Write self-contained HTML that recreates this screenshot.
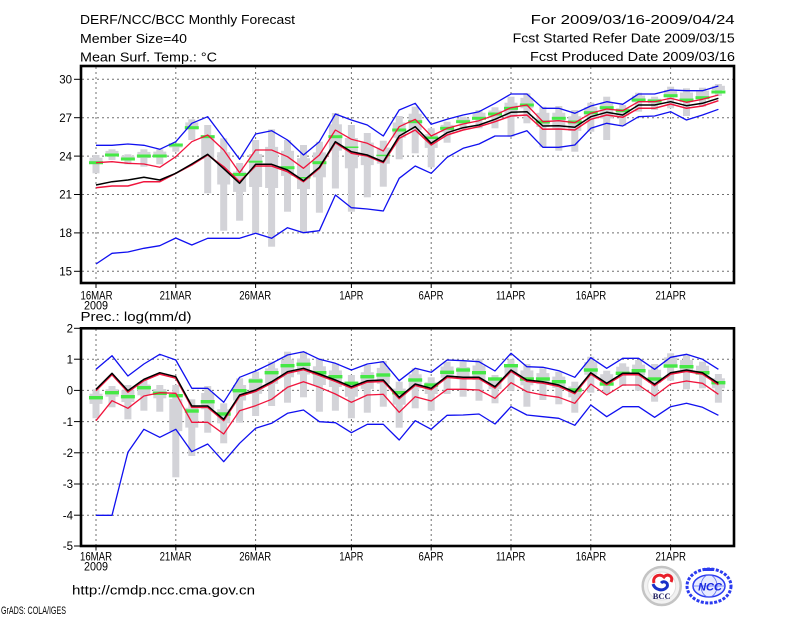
<!DOCTYPE html>
<html>
<head>
<meta charset="utf-8">
<style>
html,body{margin:0;padding:0;background:#fff;}
svg{display:block;}
text{font-family:"Liberation Sans",Arial,sans-serif;fill:#000;}
</style>
</head>
<body>
<svg width="800" height="618" viewBox="0 0 800 618" xmlns="http://www.w3.org/2000/svg">
<rect width="800" height="618" fill="#fff"/>

<!-- Header -->
<g font-size="13">
<text x="80" y="24" textLength="215" lengthAdjust="spacingAndGlyphs">DERF/NCC/BCC Monthly Forecast</text>
<text x="80" y="43" textLength="107" lengthAdjust="spacingAndGlyphs">Member Size=40</text>
<text x="80" y="61.5" textLength="137" lengthAdjust="spacingAndGlyphs">Mean Surf. Temp.: °C</text>
<text x="530.7" y="24" textLength="204" lengthAdjust="spacingAndGlyphs">For 2009/03/16-2009/04/24</text>
<text x="512.7" y="42.5" textLength="222" lengthAdjust="spacingAndGlyphs">Fcst Started Refer Date 2009/03/15</text>
<text x="530" y="61" textLength="205" lengthAdjust="spacingAndGlyphs">Fcst Produced Date 2009/03/16</text>
</g>

<!-- ================= TOP CHART ================= -->
<g stroke="#707070" stroke-width="1" stroke-dasharray="2,3" fill="none">
<line x1="82" y1="79.3" x2="733" y2="79.3"/>
<line x1="82" y1="117.7" x2="733" y2="117.7"/>
<line x1="82" y1="156.1" x2="733" y2="156.1"/>
<line x1="82" y1="194.5" x2="733" y2="194.5"/>
<line x1="82" y1="232.9" x2="733" y2="232.9"/>
<line x1="82" y1="271.3" x2="733" y2="271.3"/>
<line x1="96" y1="67" x2="96" y2="282"/>
<line x1="175.8" y1="67" x2="175.8" y2="282"/>
<line x1="255.6" y1="67" x2="255.6" y2="282"/>
<line x1="351.4" y1="67" x2="351.4" y2="282"/>
<line x1="431.2" y1="67" x2="431.2" y2="282"/>
<line x1="511" y1="67" x2="511" y2="282"/>
<line x1="590.8" y1="67" x2="590.8" y2="282"/>
<line x1="670.6" y1="67" x2="670.6" y2="282"/>
</g>

<!-- gray bars top -->
<g fill="#d3d3d8">
<rect x="92.5" y="155" width="7" height="18.3"/><rect x="89.5" y="157.7" width="13" height="6.4"/>
<rect x="108.5" y="149.3" width="7" height="10.7"/><rect x="105.5" y="150.9" width="13" height="3.7"/>
<rect x="124.4" y="154.3" width="7" height="10"/><rect x="121.4" y="155.8" width="13" height="3.5"/>
<rect x="140.4" y="149.3" width="7" height="17.4"/><rect x="137.4" y="151.9" width="13" height="6.1"/>
<rect x="156.3" y="149.3" width="7" height="15"/><rect x="153.3" y="151.6" width="13" height="5.3"/>
<rect x="172.3" y="143.3" width="7" height="8.4"/><rect x="169.3" y="144.6" width="13" height="2.9"/>
<rect x="188.3" y="119.3" width="7" height="20.7"/><rect x="185.3" y="122.4" width="13" height="7.2"/>
<rect x="204.2" y="125" width="7" height="68.3"/><rect x="201.2" y="135.2" width="13" height="23.9"/>
<rect x="220.2" y="138.3" width="7" height="92.4"/><rect x="217.2" y="152.2" width="13" height="32.3"/>
<rect x="236.1" y="163" width="7" height="57.7"/><rect x="233.1" y="171.7" width="13" height="20.2"/>
<rect x="252.1" y="140" width="7" height="94"/><rect x="249.1" y="154.1" width="13" height="32.9"/>
<rect x="268.1" y="129.3" width="7" height="117.4"/><rect x="265.1" y="146.9" width="13" height="41.1"/>
<rect x="284" y="140" width="7" height="71.7"/><rect x="281" y="150.8" width="13" height="25.1"/>
<rect x="300" y="145" width="7" height="88.3"/><rect x="297" y="158.2" width="13" height="30.9"/>
<rect x="315.9" y="141.7" width="7" height="71"/><rect x="312.9" y="152.4" width="13" height="24.9"/>
<rect x="331.9" y="113" width="7" height="75.5"/><rect x="328.9" y="124.3" width="13" height="26.4"/>
<rect x="347.9" y="125" width="7" height="86.7"/><rect x="344.9" y="138" width="13" height="30.3"/>
<rect x="363.8" y="133" width="7" height="64.3"/><rect x="360.8" y="142.6" width="13" height="22.5"/>
<rect x="379.8" y="140.7" width="7" height="46"/><rect x="376.8" y="147.6" width="13" height="16.1"/>
<rect x="395.7" y="116" width="7" height="43.3"/><rect x="392.7" y="122.5" width="13" height="15.2"/>
<rect x="411.7" y="106.7" width="7" height="46.6"/><rect x="408.7" y="113.7" width="13" height="16.3"/>
<rect x="427.7" y="128.3" width="7" height="39"/><rect x="424.7" y="134.2" width="13" height="13.7"/>
<rect x="443.6" y="121.7" width="7" height="21"/><rect x="440.6" y="124.9" width="13" height="7.4"/>
<rect x="459.6" y="116.7" width="7" height="12.6"/><rect x="456.6" y="118.6" width="13" height="4.4"/>
<rect x="475.5" y="110" width="7" height="18.3"/><rect x="472.5" y="112.7" width="13" height="6.4"/>
<rect x="491.5" y="107.3" width="7" height="21"/><rect x="488.5" y="110.5" width="13" height="7.4"/>
<rect x="507.5" y="96.7" width="7" height="40"/><rect x="504.5" y="102.7" width="13" height="14"/>
<rect x="523.4" y="93.3" width="7" height="30"/><rect x="520.4" y="97.8" width="13" height="10.5"/>
<rect x="539.4" y="106.7" width="7" height="40.6"/><rect x="536.4" y="112.8" width="13" height="14.2"/>
<rect x="555.3" y="106" width="7" height="44.7"/><rect x="552.3" y="112.7" width="13" height="15.6"/>
<rect x="571.3" y="110" width="7" height="41.7"/><rect x="568.3" y="116.3" width="13" height="14.6"/>
<rect x="587.3" y="102.7" width="7" height="29"/><rect x="584.3" y="107.1" width="13" height="10.2"/>
<rect x="603.2" y="96.7" width="7" height="43.3"/><rect x="600.2" y="103.2" width="13" height="15.2"/>
<rect x="619.2" y="105" width="7" height="21"/><rect x="616.2" y="108.2" width="13" height="7.4"/>
<rect x="635.1" y="92.7" width="7" height="19"/><rect x="632.1" y="95.6" width="13" height="6.7"/>
<rect x="651.1" y="96.7" width="7" height="13.3"/><rect x="648.1" y="98.7" width="13" height="4.7"/>
<rect x="667.1" y="86.7" width="7" height="21.6"/><rect x="664.1" y="89.9" width="13" height="7.6"/>
<rect x="683" y="88.3" width="7" height="27.7"/><rect x="680" y="92.5" width="13" height="9.7"/>
<rect x="699" y="87.7" width="7" height="19"/><rect x="696" y="90.6" width="13" height="6.7"/>
<rect x="714.9" y="84" width="7" height="12"/><rect x="711.9" y="85.8" width="13" height="4.2"/>
</g>

<!-- green dashes top -->
<g fill="#46e846">
<rect x="89" y="161.2" width="14" height="3"/>
<rect x="105" y="153.5" width="14" height="3"/>
<rect x="120.9" y="157.5" width="14" height="3"/>
<rect x="136.9" y="154.5" width="14" height="3"/>
<rect x="152.8" y="154.5" width="14" height="3"/>
<rect x="168.8" y="143.5" width="14" height="3"/>
<rect x="184.8" y="126.2" width="14" height="3"/>
<rect x="200.7" y="135.2" width="14" height="3"/>
<rect x="232.6" y="173" width="14" height="3"/>
<rect x="248.6" y="160.7" width="14" height="2"/>
<rect x="280.5" y="166.2" width="14" height="3"/>
<rect x="296.5" y="177" width="14" height="1.5"/>
<rect x="312.4" y="161.2" width="14" height="3"/>
<rect x="328.4" y="135.2" width="14" height="3"/>
<rect x="344.4" y="146.5" width="14" height="1.5"/>
<rect x="376.3" y="154.7" width="14" height="1.5"/>
<rect x="392.2" y="128.5" width="14" height="3"/>
<rect x="408.2" y="120.2" width="14" height="3"/>
<rect x="424.2" y="136.5" width="14" height="2.5"/>
<rect x="440.1" y="126.8" width="14" height="3"/>
<rect x="456.1" y="120.2" width="14" height="3"/>
<rect x="472" y="116.8" width="14" height="3"/>
<rect x="488" y="112.5" width="14" height="3"/>
<rect x="504" y="106.8" width="14" height="3"/>
<rect x="519.9" y="103.5" width="14" height="3"/>
<rect x="535.9" y="120.5" width="14" height="3"/>
<rect x="551.8" y="116.8" width="14" height="3"/>
<rect x="567.8" y="120.5" width="14" height="3"/>
<rect x="583.8" y="111.2" width="14" height="3"/>
<rect x="599.7" y="106.2" width="14" height="3"/>
<rect x="615.7" y="109.2" width="14" height="3"/>
<rect x="631.6" y="98.5" width="14" height="3"/>
<rect x="647.6" y="99.5" width="14" height="3"/>
<rect x="663.6" y="94.2" width="14" height="3"/>
<rect x="679.5" y="98.5" width="14" height="3"/>
<rect x="695.5" y="96.2" width="14" height="3"/>
<rect x="711.4" y="90.5" width="14" height="3"/>
</g>

<g fill="none" stroke-linejoin="round">
<polyline stroke="#1010f0" stroke-width="1.3" points="96,145.3 112,145.3 127.9,144 143.9,145.3 159.8,149.3 175.8,141.7 191.8,123.3 207.7,116.7 223.7,138 239.6,159.3 255.6,134 271.6,130.7 287.5,140 303.5,155 319.4,141.7 335.4,114 351.4,120 367.3,125 383.3,136 399.2,110 415.2,103.3 431.2,124.3 447.1,119.3 463.1,115 479,111.7 495,103.3 511,94 526.9,94 542.9,108.3 558.8,108.3 574.8,113.3 590.8,106 606.7,101.7 622.7,104.3 638.6,94 654.6,94 670.6,90 686.5,90.7 702.5,90.7 718.4,86"/>
<polyline stroke="#1010f0" stroke-width="1.3" points="96,264 112,253.3 127.9,252 143.9,248.3 159.8,245.7 175.8,238 191.8,245 207.7,238.3 223.7,238.3 239.6,238.3 255.6,233.3 271.6,238.3 287.5,227.7 303.5,232.7 319.4,230.7 335.4,195 351.4,207.7 367.3,209 383.3,211 399.2,178.3 415.2,166 431.2,173.3 447.1,157.3 463.1,148.3 479,144 495,136 511,136 526.9,130.7 542.9,147.3 558.8,147.3 574.8,145 590.8,128.3 606.7,123.3 622.7,126 638.6,116.7 654.6,116 670.6,111.7 686.5,120 702.5,115 718.4,109.3"/>
<polyline stroke="#f0143c" stroke-width="1.3" points="96,162.7 112,161.7 127.9,163.3 143.9,164 159.8,167.3 175.8,156.7 191.8,141.7 207.7,135 223.7,150 239.6,172.7 255.6,150 271.6,150 287.5,156.7 303.5,168.3 319.4,155 335.4,130 351.4,139.3 367.3,143.3 383.3,151 399.2,126.7 415.2,119.3 431.2,136 447.1,128.3 463.1,124 479,120.7 495,115 511,107.7 526.9,105 542.9,121.7 558.8,120.7 574.8,122.7 590.8,113.3 606.7,109 622.7,110.7 638.6,101.7 654.6,101.7 670.6,98.3 686.5,102.3 702.5,99.3 718.4,95"/>
<polyline stroke="#f0143c" stroke-width="1.5" points="96,187.7 112,186 127.9,186 143.9,181.7 159.8,181.7 175.8,173.3 191.8,165 207.7,155 223.7,166.7 239.6,181.7 255.6,166 271.6,166 287.5,171.7 303.5,181.7 319.4,168.3 335.4,142.7 351.4,153.3 367.3,156 383.3,162.7 399.2,138.3 415.2,130 431.2,145 447.1,135 463.1,130 479,126.7 495,121.7 511,116 526.9,115 542.9,129.3 558.8,129 574.8,130 590.8,119.3 606.7,115 622.7,117.3 638.6,108.3 654.6,108.3 670.6,104 686.5,108.3 702.5,106 718.4,100.7"/>
<polyline stroke="#000" stroke-width="1.5" points="96,185 112,181.7 127.9,180 143.9,177.3 159.8,180 175.8,173.3 191.8,164 207.7,154.3 223.7,168.7 239.6,183.3 255.6,164.3 271.6,164.3 287.5,170 303.5,180.7 319.4,167.3 335.4,141.7 351.4,151.7 367.3,155 383.3,161.7 399.2,136 415.2,126.7 431.2,143.3 447.1,132.7 463.1,127.7 479,125 495,119.3 511,112.3 526.9,111.7 542.9,126 558.8,125.7 574.8,127.3 590.8,116.7 606.7,112.3 622.7,115 638.6,105 654.6,105 670.6,101.7 686.5,105.7 702.5,103.3 718.4,98.3"/>
</g>

<rect x="81" y="66" width="653" height="217" fill="none" stroke="#000" stroke-width="2.6"/>

<!-- top ticks -->
<g stroke="#000" stroke-width="1">
<line x1="74" y1="79.3" x2="81" y2="79.3"/>
<line x1="74" y1="117.7" x2="81" y2="117.7"/>
<line x1="74" y1="156.1" x2="81" y2="156.1"/>
<line x1="74" y1="194.5" x2="81" y2="194.5"/>
<line x1="74" y1="232.9" x2="81" y2="232.9"/>
<line x1="74" y1="271.3" x2="81" y2="271.3"/>
<line x1="96" y1="283" x2="96" y2="288"/>
<line x1="175.8" y1="283" x2="175.8" y2="288"/>
<line x1="255.6" y1="283" x2="255.6" y2="288"/>
<line x1="351.4" y1="283" x2="351.4" y2="288"/>
<line x1="431.2" y1="283" x2="431.2" y2="288"/>
<line x1="511" y1="283" x2="511" y2="288"/>
<line x1="590.8" y1="283" x2="590.8" y2="288"/>
<line x1="670.6" y1="283" x2="670.6" y2="288"/>
</g>
<g font-size="11.5" text-anchor="end">
<text x="72" y="83.5">30</text>
<text x="72" y="121.9">27</text>
<text x="72" y="160.3">24</text>
<text x="72" y="198.7">21</text>
<text x="72" y="237.1">18</text>
<text x="72" y="275.5">15</text>
</g>
<g font-size="12" text-anchor="middle">
<text x="96.5" y="299.3" textLength="32" lengthAdjust="spacingAndGlyphs">16MAR</text>
<text x="96" y="309.5" textLength="24" lengthAdjust="spacingAndGlyphs">2009</text>
<text x="175.6" y="299.3" textLength="32" lengthAdjust="spacingAndGlyphs">21MAR</text>
<text x="255.2" y="299.3" textLength="32" lengthAdjust="spacingAndGlyphs">26MAR</text>
<text x="351.4" y="299.3" textLength="24" lengthAdjust="spacingAndGlyphs">1APR</text>
<text x="431" y="299.3" textLength="25" lengthAdjust="spacingAndGlyphs">6APR</text>
<text x="510.7" y="299.3" textLength="29.5" lengthAdjust="spacingAndGlyphs">11APR</text>
<text x="591" y="299.3" textLength="30.5" lengthAdjust="spacingAndGlyphs">16APR</text>
<text x="670.7" y="299.3" textLength="30.5" lengthAdjust="spacingAndGlyphs">21APR</text>
</g>

<text x="80.5" y="321" font-size="12.5" textLength="111" lengthAdjust="spacingAndGlyphs">Prec.: log(mm/d)</text>

<!-- ================= BOTTOM CHART ================= -->
<g stroke="#707070" stroke-width="1" stroke-dasharray="2,3" fill="none">
<line x1="82" y1="359.2" x2="733" y2="359.2"/>
<line x1="82" y1="390.4" x2="733" y2="390.4"/>
<line x1="82" y1="421.6" x2="733" y2="421.6"/>
<line x1="82" y1="452.8" x2="733" y2="452.8"/>
<line x1="82" y1="484" x2="733" y2="484"/>
<line x1="82" y1="515.2" x2="733" y2="515.2"/>
<line x1="96" y1="329" x2="96" y2="545"/>
<line x1="175.8" y1="329" x2="175.8" y2="545"/>
<line x1="255.6" y1="329" x2="255.6" y2="545"/>
<line x1="351.4" y1="329" x2="351.4" y2="545"/>
<line x1="431.2" y1="329" x2="431.2" y2="545"/>
<line x1="511" y1="329" x2="511" y2="545"/>
<line x1="590.8" y1="329" x2="590.8" y2="545"/>
<line x1="670.6" y1="329" x2="670.6" y2="545"/>
</g>

<g fill="#d3d3d8">
<rect x="92.5" y="389.3" width="7" height="29"/><rect x="89.5" y="393.7" width="13" height="10.2"/>
<rect x="108.5" y="386" width="7" height="21.3"/><rect x="105.5" y="389.2" width="13" height="7.5"/>
<rect x="124.4" y="385" width="7" height="34.3"/><rect x="121.4" y="390.1" width="13" height="12"/>
<rect x="140.4" y="380" width="7" height="30.7"/><rect x="137.4" y="384.6" width="13" height="10.7"/>
<rect x="156.3" y="385" width="7" height="26.7"/><rect x="153.3" y="389" width="13" height="9.3"/>
<rect x="172.3" y="385" width="7" height="92.3"/><rect x="169.3" y="398.8" width="13" height="32.3"/>
<rect x="188.3" y="399.3" width="7" height="56.7"/><rect x="185.3" y="407.8" width="13" height="19.8"/>
<rect x="204.2" y="386" width="7" height="46.7"/><rect x="201.2" y="393" width="13" height="16.3"/>
<rect x="220.2" y="403.3" width="7" height="40"/><rect x="217.2" y="409.3" width="13" height="14"/>
<rect x="236.1" y="378.3" width="7" height="44.4"/><rect x="233.1" y="385" width="13" height="15.5"/>
<rect x="252.1" y="371.7" width="7" height="44.3"/><rect x="249.1" y="378.3" width="13" height="15.5"/>
<rect x="268.1" y="361.7" width="7" height="44.3"/><rect x="265.1" y="368.3" width="13" height="15.5"/>
<rect x="284" y="351.7" width="7" height="51"/><rect x="281" y="359.4" width="13" height="17.9"/>
<rect x="300" y="351.7" width="7" height="45.6"/><rect x="297" y="358.5" width="13" height="16"/>
<rect x="315.9" y="358.3" width="7" height="53.4"/><rect x="312.9" y="366.3" width="13" height="18.7"/>
<rect x="331.9" y="363.3" width="7" height="47.4"/><rect x="328.9" y="370.4" width="13" height="16.6"/>
<rect x="347.9" y="375" width="7" height="43.3"/><rect x="344.9" y="381.5" width="13" height="15.2"/>
<rect x="363.8" y="365" width="7" height="47.7"/><rect x="360.8" y="372.2" width="13" height="16.7"/>
<rect x="379.8" y="361" width="7" height="45.7"/><rect x="376.8" y="367.9" width="13" height="16"/>
<rect x="395.7" y="381.7" width="7" height="46"/><rect x="392.7" y="388.6" width="13" height="16.1"/>
<rect x="411.7" y="368.3" width="7" height="40"/><rect x="408.7" y="374.3" width="13" height="14"/>
<rect x="427.7" y="377.3" width="7" height="33.4"/><rect x="424.7" y="382.3" width="13" height="11.7"/>
<rect x="443.6" y="361.7" width="7" height="32.3"/><rect x="440.6" y="366.5" width="13" height="11.3"/>
<rect x="459.6" y="361.7" width="7" height="35"/><rect x="456.6" y="367" width="13" height="12.3"/>
<rect x="475.5" y="359.3" width="7" height="41.4"/><rect x="472.5" y="365.5" width="13" height="14.5"/>
<rect x="491.5" y="375" width="7" height="28.3"/><rect x="488.5" y="379.2" width="13" height="9.9"/>
<rect x="507.5" y="359.3" width="7" height="31.4"/><rect x="504.5" y="364" width="13" height="11"/>
<rect x="523.4" y="364" width="7" height="42.7"/><rect x="520.4" y="370.4" width="13" height="14.9"/>
<rect x="539.4" y="368.3" width="7" height="31.7"/><rect x="536.4" y="373.1" width="13" height="11.1"/>
<rect x="555.3" y="371.7" width="7" height="32.6"/><rect x="552.3" y="376.6" width="13" height="11.4"/>
<rect x="571.3" y="381.7" width="7" height="31"/><rect x="568.3" y="386.4" width="13" height="10.9"/>
<rect x="587.3" y="356.7" width="7" height="36"/><rect x="584.3" y="362.1" width="13" height="12.6"/>
<rect x="603.2" y="370.7" width="7" height="23.3"/><rect x="600.2" y="374.2" width="13" height="8.2"/>
<rect x="619.2" y="363.3" width="7" height="22.7"/><rect x="616.2" y="366.7" width="13" height="7.9"/>
<rect x="635.1" y="360" width="7" height="30.7"/><rect x="632.1" y="364.6" width="13" height="10.7"/>
<rect x="651.1" y="364" width="7" height="37.7"/><rect x="648.1" y="369.7" width="13" height="13.2"/>
<rect x="667.1" y="353.3" width="7" height="27.4"/><rect x="664.1" y="357.4" width="13" height="9.6"/>
<rect x="683" y="355" width="7" height="34.3"/><rect x="680" y="360.1" width="13" height="12"/>
<rect x="699" y="361.7" width="7" height="26.6"/><rect x="696" y="365.7" width="13" height="9.3"/>
<rect x="714.9" y="374" width="7" height="28.7"/><rect x="711.9" y="378.3" width="13" height="10"/>
</g>

<g fill="#46e846">
<rect x="89" y="396" width="14" height="3.4"/>
<rect x="105" y="391" width="14" height="3.4"/>
<rect x="120.9" y="395" width="14" height="3.4"/>
<rect x="136.9" y="386" width="14" height="3.4"/>
<rect x="152.8" y="391.6" width="14" height="3.4"/>
<rect x="168.8" y="394" width="14" height="3.4"/>
<rect x="184.8" y="409.3" width="14" height="3.4"/>
<rect x="200.7" y="400" width="14" height="3.4"/>
<rect x="216.7" y="412.3" width="14" height="3.4"/>
<rect x="232.6" y="389" width="14" height="3.4"/>
<rect x="248.6" y="379.3" width="14" height="3.4"/>
<rect x="264.6" y="371" width="14" height="3.4"/>
<rect x="280.5" y="364" width="14" height="3.4"/>
<rect x="296.5" y="362.6" width="14" height="3.4"/>
<rect x="312.4" y="371" width="14" height="3.4"/>
<rect x="328.4" y="375" width="14" height="3.4"/>
<rect x="344.4" y="381.6" width="14" height="3.4"/>
<rect x="360.3" y="375" width="14" height="3.4"/>
<rect x="376.3" y="373.3" width="14" height="3.4"/>
<rect x="392.2" y="391" width="14" height="3.4"/>
<rect x="408.2" y="378.3" width="14" height="3.4"/>
<rect x="424.2" y="383.3" width="14" height="3.4"/>
<rect x="440.1" y="370.6" width="14" height="3.4"/>
<rect x="456.1" y="368.3" width="14" height="3.4"/>
<rect x="472" y="371" width="14" height="3.4"/>
<rect x="488" y="377.3" width="14" height="3.4"/>
<rect x="504" y="364" width="14" height="3.4"/>
<rect x="519.9" y="377.3" width="14" height="3.4"/>
<rect x="535.9" y="377.3" width="14" height="3.4"/>
<rect x="551.8" y="380" width="14" height="3.4"/>
<rect x="567.8" y="388.3" width="14" height="3.4"/>
<rect x="583.8" y="368.3" width="14" height="3.4"/>
<rect x="599.7" y="382.3" width="14" height="3.4"/>
<rect x="615.7" y="371.6" width="14" height="3.4"/>
<rect x="631.6" y="369" width="14" height="3.4"/>
<rect x="647.6" y="377.3" width="14" height="3.4"/>
<rect x="663.6" y="364.3" width="14" height="3.4"/>
<rect x="679.5" y="365" width="14" height="3.4"/>
<rect x="695.5" y="371" width="14" height="3.4"/>
<rect x="711.4" y="381" width="14" height="3.4"/>
</g>

<g fill="none" stroke-linejoin="round">
<polyline stroke="#1010f0" stroke-width="1.3" points="96,369.3 112,355.7 127.9,376 143.9,364 159.8,354.3 175.8,360 191.8,388.3 207.7,388.3 223.7,402.3 239.6,377.3 255.6,371 271.6,363.3 287.5,355 303.5,351.7 319.4,359.3 335.4,363.3 351.4,370 367.3,364 383.3,361.7 399.2,380.7 415.2,368.3 431.2,372.3 447.1,360 463.1,360.7 479,361.7 495,371 511,353.3 526.9,366.7 542.9,367.3 558.8,370.7 574.8,377.3 590.8,357.7 606.7,368.3 622.7,358.3 638.6,358.3 654.6,369.3 670.6,357.3 686.5,354.3 702.5,359.3 718.4,369.3"/>
<polyline stroke="#1010f0" stroke-width="1.3" points="96,515.3 112,515.3 127.9,452.3 143.9,429.3 159.8,437.3 175.8,429.3 191.8,451.7 207.7,444 223.7,461.7 239.6,443.3 255.6,428.3 271.6,423.3 287.5,413.3 303.5,410 319.4,421.7 335.4,422.7 351.4,432.7 367.3,424.3 383.3,424.3 399.2,440 415.2,420.7 431.2,429.3 447.1,415.3 463.1,415 479,414 495,424 511,406.7 526.9,415 542.9,416.7 558.8,418.3 574.8,425.3 590.8,405 606.7,416.7 622.7,406.7 638.6,406.7 654.6,417.3 670.6,406.7 686.5,403.3 702.5,407.3 718.4,415.3"/>
<polyline stroke="#f0143c" stroke-width="1.3" points="96,420.7 112,400.7 127.9,408.3 143.9,396 159.8,392.7 175.8,393.3 191.8,422.3 207.7,422.3 223.7,434 239.6,410.7 255.6,405.7 271.6,399.3 287.5,387.3 303.5,381.7 319.4,387.3 335.4,394 351.4,402.3 367.3,395 383.3,394.3 399.2,412.3 415.2,396.7 431.2,401 447.1,389.3 463.1,389.3 479,390 495,398.3 511,382.7 526.9,391.7 542.9,395 558.8,397.3 574.8,403.3 590.8,384 606.7,395 622.7,385 638.6,385 654.6,396 670.6,384 686.5,381 702.5,383.3 718.4,394.3"/>
<polyline stroke="#f0143c" stroke-width="1.5" transform="translate(0,1.4)" points="96,389.3 112,373.3 127.9,390.7 143.9,379.3 159.8,372.7 175.8,376.7 191.8,406 207.7,406 223.7,419.3 239.6,395 255.6,390 271.6,381.7 287.5,371.7 303.5,368.3 319.4,374 335.4,380 351.4,386.7 367.3,380.7 383.3,380 399.2,397.3 415.2,384 431.2,388.3 447.1,376 463.1,377.3 479,377.3 495,386.7 511,370 526.9,380 542.9,381.7 558.8,385 574.8,392.3 590.8,372.7 606.7,383.3 622.7,373.3 638.6,373.3 654.6,384.3 670.6,372.7 686.5,370 702.5,372.7 718.4,383.3"/>
<polyline stroke="#000" stroke-width="1.5" points="96,389.3 112,373.3 127.9,390.7 143.9,379.3 159.8,372.7 175.8,376.7 191.8,406 207.7,406 223.7,419.3 239.6,395 255.6,390 271.6,381.7 287.5,371.7 303.5,368.3 319.4,374 335.4,380 351.4,386.7 367.3,380.7 383.3,380 399.2,397.3 415.2,384 431.2,388.3 447.1,376 463.1,377.3 479,377.3 495,386.7 511,370 526.9,380 542.9,381.7 558.8,385 574.8,392.3 590.8,372.7 606.7,383.3 622.7,373.3 638.6,373.3 654.6,384.3 670.6,372.7 686.5,370 702.5,372.7 718.4,383.3"/>
</g>

<rect x="81" y="328.3" width="653" height="217.7" fill="none" stroke="#000" stroke-width="2.6"/>

<g stroke="#000" stroke-width="1">
<line x1="74" y1="328.3" x2="81" y2="328.3"/>
<line x1="74" y1="359.2" x2="81" y2="359.2"/>
<line x1="74" y1="390.4" x2="81" y2="390.4"/>
<line x1="74" y1="421.6" x2="81" y2="421.6"/>
<line x1="74" y1="452.8" x2="81" y2="452.8"/>
<line x1="74" y1="484" x2="81" y2="484"/>
<line x1="74" y1="515.2" x2="81" y2="515.2"/>
<line x1="74" y1="546" x2="81" y2="546"/>
<line x1="96" y1="546" x2="96" y2="550.5"/>
<line x1="175.8" y1="546" x2="175.8" y2="550.5"/>
<line x1="255.6" y1="546" x2="255.6" y2="550.5"/>
<line x1="351.4" y1="546" x2="351.4" y2="550.5"/>
<line x1="431.2" y1="546" x2="431.2" y2="550.5"/>
<line x1="511" y1="546" x2="511" y2="550.5"/>
<line x1="590.8" y1="546" x2="590.8" y2="550.5"/>
<line x1="670.6" y1="546" x2="670.6" y2="550.5"/>
</g>
<g font-size="11.5" text-anchor="end">
<text x="73" y="332.5">2</text>
<text x="73" y="363.4">1</text>
<text x="73" y="394.6">0</text>
<text x="73" y="425.8">-1</text>
<text x="73" y="457">-2</text>
<text x="73" y="488.2">-3</text>
<text x="73" y="519.4">-4</text>
<text x="73" y="550.2">-5</text>
</g>
<g font-size="12" text-anchor="middle">
<text x="96" y="560.7" textLength="32" lengthAdjust="spacingAndGlyphs">16MAR</text>
<text x="96" y="570.7" textLength="24" lengthAdjust="spacingAndGlyphs">2009</text>
<text x="175.6" y="560.7" textLength="32" lengthAdjust="spacingAndGlyphs">21MAR</text>
<text x="255.2" y="560.7" textLength="32" lengthAdjust="spacingAndGlyphs">26MAR</text>
<text x="351.4" y="560.7" textLength="24" lengthAdjust="spacingAndGlyphs">1APR</text>
<text x="431" y="560.7" textLength="25" lengthAdjust="spacingAndGlyphs">6APR</text>
<text x="510.7" y="560.7" textLength="29.5" lengthAdjust="spacingAndGlyphs">11APR</text>
<text x="591" y="560.7" textLength="30.5" lengthAdjust="spacingAndGlyphs">16APR</text>
<text x="670.7" y="560.7" textLength="30.5" lengthAdjust="spacingAndGlyphs">21APR</text>
</g>

<!-- footer -->
<text x="72" y="594.5" font-size="13" textLength="183" lengthAdjust="spacingAndGlyphs">http://cmdp.ncc.cma.gov.cn</text>
<text x="1" y="614" font-size="11" textLength="65" lengthAdjust="spacingAndGlyphs">GrADS: COLA/IGES</text>

<!-- BCC logo -->
<g>
<circle cx="661.7" cy="586" r="19" fill="#f2f2f2" stroke="#c4c4c4" stroke-width="2.5"/>
<circle cx="661.7" cy="586" r="14" fill="#fff" stroke="#e0e0e0" stroke-width="1"/>
<path d="M654,583 C652,576 660,573 664,577 C667,573 674,576 671,582" fill="none" stroke="#e8202a" stroke-width="3"/>
<path d="M653,584 C655,590 663,592 667,587 C669,583 664,580 661,583" fill="none" stroke="#1830c8" stroke-width="3"/>
<text x="661.7" y="599" font-size="8.5" font-weight="bold" text-anchor="middle" style="font-family:'Liberation Serif',serif;fill:#202060">BCC</text>
</g>
<!-- NCC logo -->
<g>
<ellipse cx="709" cy="586" rx="22" ry="17" fill="none" stroke="#2a3af0" stroke-width="3" stroke-dasharray="3,1.5"/>
<ellipse cx="709" cy="586" rx="16" ry="11" fill="#e8ecff" stroke="#2a3af0" stroke-width="1.5"/>
<ellipse cx="709" cy="586" rx="8" ry="11" fill="none" stroke="#6070f0" stroke-width="0.8"/>
<line x1="693" y1="586" x2="725" y2="586" stroke="#6070f0" stroke-width="0.8"/>
<text x="710" y="590.5" font-size="11" font-weight="bold" font-style="italic" text-anchor="middle" style="fill:#1a2ae0">NCC</text>
<rect x="704" y="568" width="10" height="3" fill="#2a3af0"/>
</g>
</svg>
</body>
</html>
